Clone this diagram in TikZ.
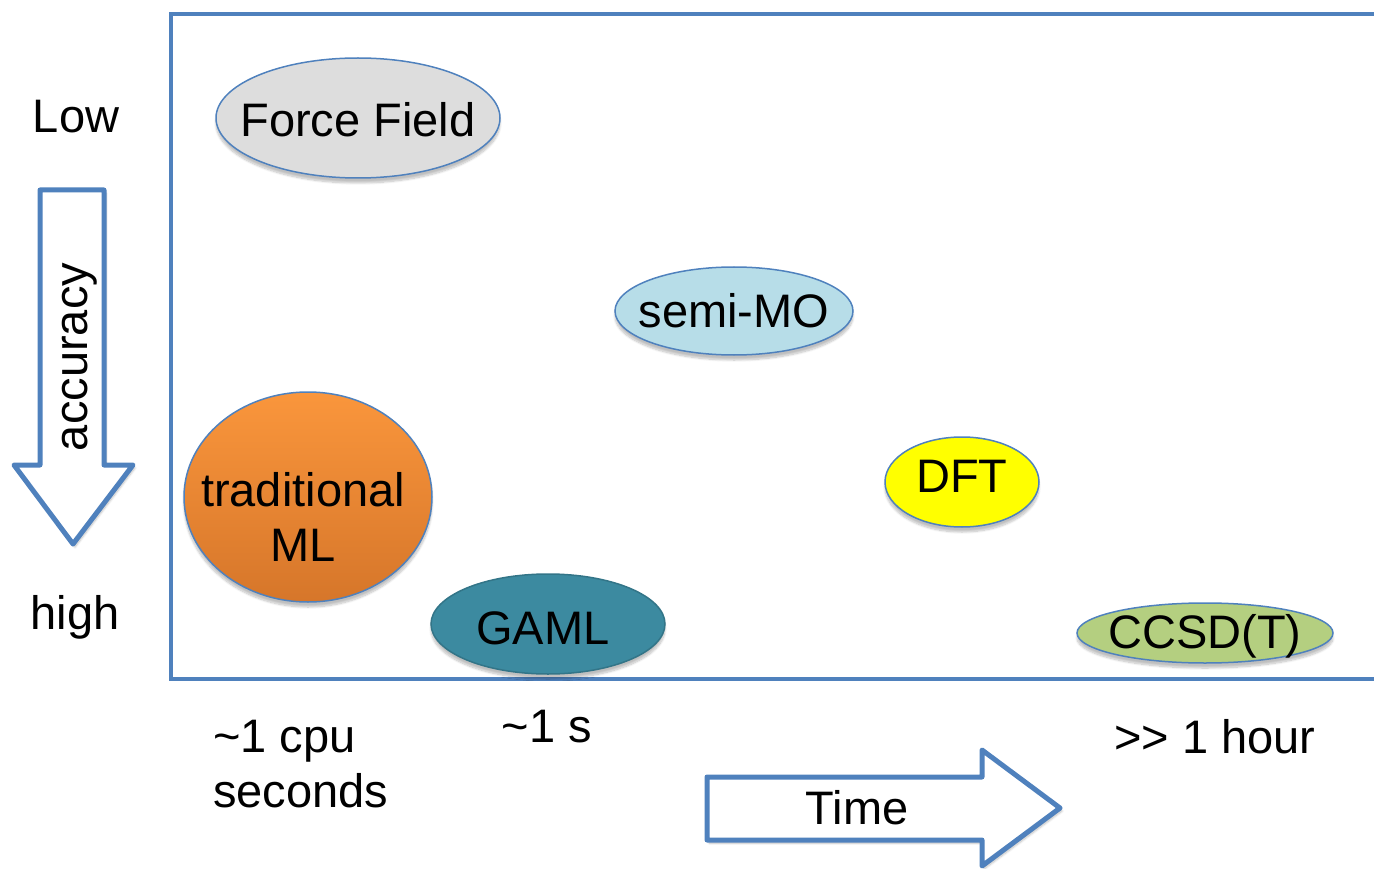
\documentclass[tikz,border=0pt]{standalone}
\usepackage{fontspec}
\setmainfont{Liberation Sans}
\usetikzlibrary{shapes.geometric,shadows.blur}
\definecolor{frameblue}{RGB}{79,129,189}
\definecolor{ffgray}{RGB}{221,221,221}
\definecolor{semiblue}{RGB}{183,221,232}
\definecolor{mltop}{RGB}{250,150,60}
\definecolor{mlbot}{RGB}{214,118,42}
\definecolor{gamlteal}{RGB}{60,138,160}
\definecolor{dftyellow}{RGB}{255,255,0}
\definecolor{ccsdgreen}{RGB}{180,207,128}
\tikzset{
  method/.style={ellipse, draw=frameblue, line width=1.5pt, inner sep=0pt,
    font=\fontsize{47}{50}\selectfont, align=center,
    blur shadow={shadow xshift=0pt, shadow yshift=-5pt, shadow opacity=25, shadow blur steps=10}},
  lbl/.style={font=\fontsize{47}{55}\selectfont, inner sep=0pt},
  bigarrow/.style={draw=frameblue, fill=white, line width=5pt, line join=round,
    blur shadow={shadow xshift=2pt, shadow yshift=-3pt, shadow opacity=25, shadow blur steps=8}},
}
\begin{document}
\begin{tikzpicture}[x=1pt, y=-1pt]
\useasboundingbox (0,0) rectangle (1374,869);

% plot frame, open on the right
\draw[frameblue, line width=4pt] (1374,14) -- (171,14) -- (171,679) -- (1374,679);

% methods placed by cost (x) and accuracy (y)
\node[method, fill=ffgray, minimum width=284pt, minimum height=120pt] (ff) at (358,118) {};
\node[lbl] (fftext) at (358,120) {Force Field};

\node[method, fill=semiblue, minimum width=238pt, minimum height=88pt] (semi) at (734,311) {};
\node[lbl] (semitext) at (734,311) {semi-MO};

\node[method, top color=mltop, bottom color=mlbot, minimum width=248pt, minimum height=210pt] (ml) at (308,497) {};
\node[lbl, align=center, font=\fontsize{47}{55}\selectfont] (mltext) at (303,517) {traditional\\ML};

\node[method, fill=gamlteal, draw=gamlteal!85!black, minimum width=234pt, minimum height=100pt] (gaml) at (548,624) {};
\node[lbl] (gamltext) at (543,628) {GAML};

\node[method, fill=dftyellow, minimum width=154pt, minimum height=90pt] (dft) at (962,482) {};
\node[lbl] (dfttext) at (962,476) {DFT};

\node[method, fill=ccsdgreen, minimum width=256pt, minimum height=60pt] (ccsd) at (1205,633) {};
\node[lbl] (ccsdtext) at (1205,636) {CCSD(T)};

% accuracy axis
\node[lbl] (low) at (76,117) {Low};
\node[lbl] (high) at (75,617) {high};
\draw[bigarrow] (40,190) -- (104,190) -- (104,465) -- (133,465) -- (73,544) -- (14,465) -- (40,465) -- cycle;
\node[lbl, rotate=90] (acc) at (80,357) {accuracy};

% time axis
\node[lbl, anchor=west, align=left] (cpu) at (213,764) {\textasciitilde1 cpu\\seconds};
\node[lbl] (onesec) at (547,727) {\textasciitilde1 s};
\node[lbl] (hour) at (1215,737) {>{}> 1 hour};
\draw[bigarrow] (707,777) -- (982,777) -- (982,750) -- (1060,808) -- (982,866) -- (982,840) -- (707,840) -- cycle;
\node[lbl] (time) at (857,808) {Time};
\end{tikzpicture}
\end{document}
